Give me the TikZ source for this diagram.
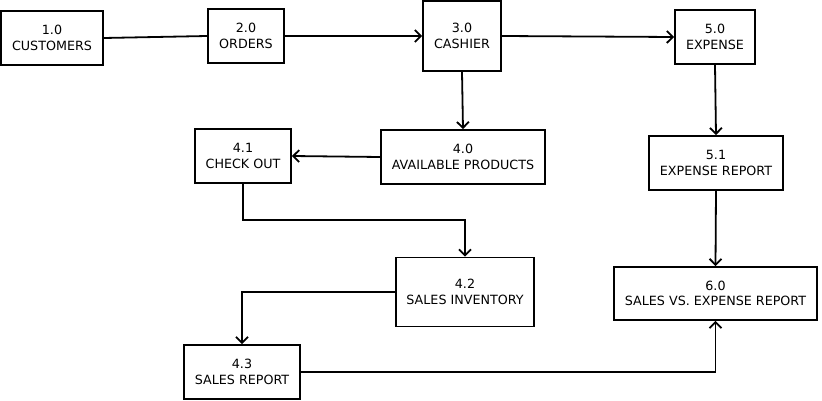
\documentclass[tikz,border=0pt]{standalone}
\usepackage{fontspec}
\setmainfont{DejaVu Sans}
\usetikzlibrary{arrows.meta}
\begin{document}
\begin{tikzpicture}[x=1pt,y=-1pt,
  proc/.style={draw,line width=1.8pt,fill=white,align=center,inner sep=0pt,
    font=\fontsize{12.7}{15.5}\selectfont},
  flow/.style={line width=1.8pt,-{Straight Barb[length=6pt,width=12pt]}},
  link/.style={line width=1.8pt}]
\useasboundingbox (0,0) rectangle (822,401);
\node[proc,minimum width=102pt,minimum height=54pt] (n10) at (52,38) {1.0\\CUSTOMERS};
\node[proc,minimum width=76pt,minimum height=54pt] (n20) at (246,36) {2.0\\ORDERS};
\node[proc,minimum width=78pt,minimum height=70pt] (n30) at (462,36) {3.0\\CASHIER};
\node[proc,minimum width=80pt,minimum height=54pt] (n50) at (715,37) {5.0\\EXPENSE};
\node[proc,minimum width=96pt,minimum height=54pt] (n41) at (243,156) {4.1\\CHECK OUT};
\node[proc,minimum width=164pt,minimum height=54pt] (n40) at (463,157) {4.0\\AVAILABLE PRODUCTS};
\node[proc,minimum width=134pt,minimum height=54pt] (n51) at (716,163) {5.1\\EXPENSE REPORT};
\node[proc,minimum width=138pt,minimum height=69pt] (n42) at (465,292) {4.2\\SALES INVENTORY};
\node[proc,minimum width=203pt,minimum height=53pt] (n60) at (715.5,293.5) {6.0\\SALES VS. EXPENSE REPORT};
\node[proc,minimum width=116pt,minimum height=54pt] (n43) at (242,372) {4.3\\SALES REPORT};
\draw[link] (n10.east) -- (n20.west);
\draw[flow] (n20.east) -- (n30.west);
\draw[flow] (n30.east) -- (n50.west);
\draw[flow] (n30.south) -- (n40.north);
\draw[flow] (n40.west) -- (n41.east);
\draw[flow] (n50.south) -- (n51.north);
\draw[flow] (n51.south) -- (n60.north);
\draw[flow] (n41.south) -- ++(0,36) -| (n42.north);
\draw[flow] (n42.west) -| (n43.north);
\draw[flow] (n43.east) -| (n60.south);
\end{tikzpicture}
\end{document}
